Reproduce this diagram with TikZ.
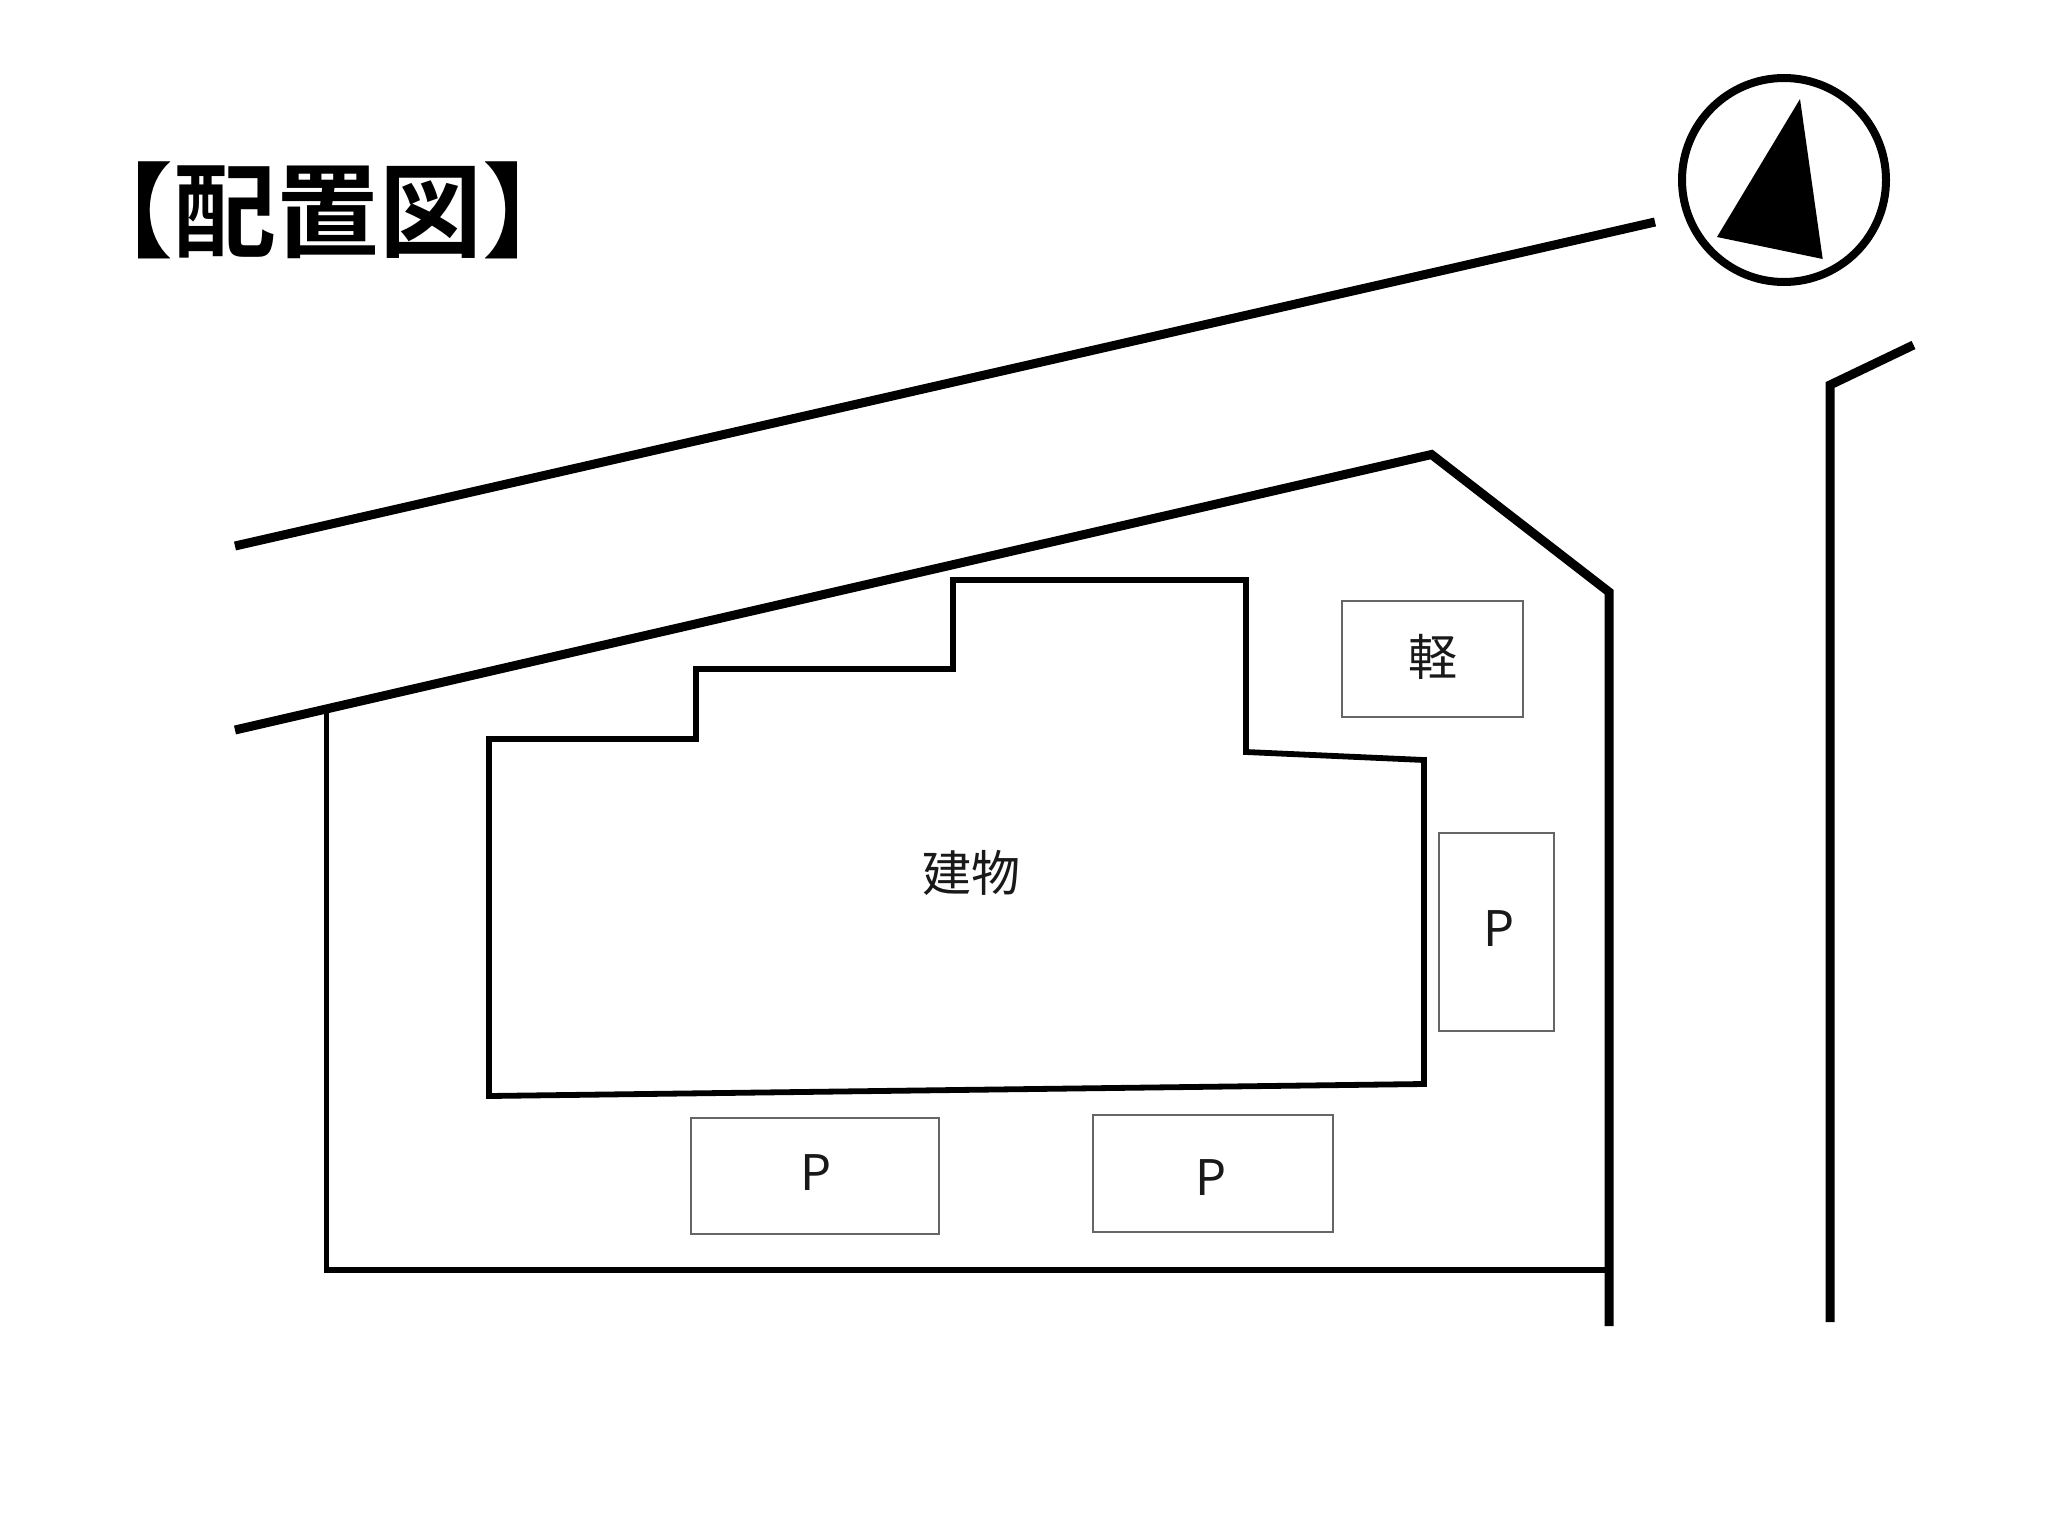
\documentclass[tikz,border=0pt]{standalone}
\usepackage{fontspec}
\newfontfamily\cjk{Noto Sans CJK JP}
\newfontfamily\cjkbold{Noto Sans CJK JP Bold}
\tikzset{
  heavy/.style={line width=9pt,black,line join=miter,line cap=butt},
  medium/.style={line width=5.8pt,black,line join=miter},
  bay/.style={line width=1.8pt,draw=black!60},
  lbl/.style={inner sep=0pt,font=\cjk\fontsize{49}{49}\selectfont,text=black!90},
}
\begin{document}
\begin{tikzpicture}[x=1pt,y=-1pt]
\useasboundingbox (0,0) rectangle (2048,1536);
\fill[white] (0,0) rectangle (2048,1536);
% title
\node[inner sep=0pt,font=\cjkbold\fontsize{103}{103}\selectfont] (title) at (328,210) {【配置図】};
% roads and lot
\draw[heavy] (235,546) -- (1655,222);
\draw[heavy] (235,730) -- (1431.5,454.5) -- (1609,592) -- (1609,1326);
\draw[medium] (326.5,712) -- (326.5,1270) -- (1609,1270);
\draw[heavy] (1913.5,345) -- (1830,385) -- (1830,1322);
% building
\draw[medium] (489,739) -- (696,739) -- (696,669) -- (953,669) -- (953,580) -- (1246,580) -- (1246,752) -- (1424,760) -- (1424,1084) -- (489,1096) -- cycle;
\node[lbl] (bldg) at (971,873) {建物};
% bays
\draw[bay] (1342,601) rectangle (1523,717);
\node[lbl] (kei) at (1433,657) {軽};
\draw[bay] (1439,833) rectangle (1554,1031);
\node[lbl] (p1) at (1499,929) {P};
\draw[bay] (691,1118) rectangle (939,1234);
\node[lbl] (p2) at (816,1173) {P};
\draw[bay] (1093,1115) rectangle (1333,1232);
\node[lbl] (p3) at (1211,1178) {P};
% compass
\draw[line width=8pt] (1784,180) circle (102);
\fill (1800,99) -- (1822.7,259) -- (1717,237) -- cycle;
\end{tikzpicture}
\end{document}
